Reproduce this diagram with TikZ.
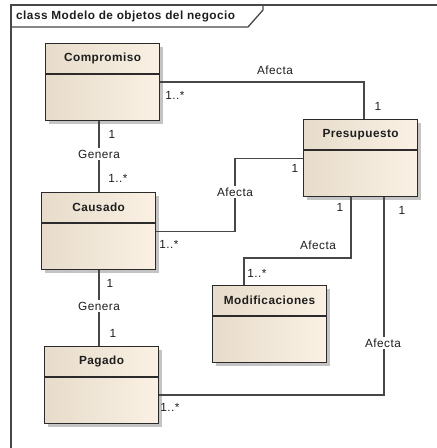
\documentclass[tikz,border=0pt]{standalone}
\usepackage{fontspec}
\setmainfont{Liberation Sans}[LetterSpace=4]

\definecolor{boxleft}{HTML}{E7DCCB}
\definecolor{boxmid}{HTML}{F5EBDC}
\definecolor{boxright}{HTML}{FAF1E4}
\definecolor{edgecol}{HTML}{2B2B2B}
\definecolor{linecol}{HTML}{474747}
\definecolor{textcol}{HTML}{1E1E1E}
\definecolor{shadowcol}{HTML}{C4C4C4}

\tikzset{
  classbox/.style={draw=edgecol, line width=1.2pt, anchor=north west,
    minimum width=114pt, minimum height=77pt, inner sep=0pt,
    left color=boxleft, middle color=boxmid, right color=boxright},
  boxshadow/.style={fill=shadowcol},
  divider/.style={draw=edgecol, line width=1.2pt},
  classtitle/.style={font=\fontsize{11.8}{14}\selectfont\bfseries, text=textcol, inner sep=0pt},
  conn/.style={draw=linecol, line width=1.1pt},
  role/.style={font=\fontsize{11.8}{14}\selectfont, text=textcol, inner sep=1pt},
  assoc/.style={role, fill=white, inner sep=2pt},
  frameline/.style={draw=linecol, line width=1.3pt},
}

% UML class: name, x, y (top left corner), class title
\newcommand\umlclass[4]{%
  \fill[boxshadow] (#2+4,#3+4) rectangle (#2+118,#3+81);
  \node[classbox] (#1) at (#2,#3) {};
  \draw[divider] ([yshift=-31pt]#1.north west) -- ([yshift=-31pt]#1.north east);
  \node[classtitle] (#1-title) at ([yshift=-15.5pt]#1.north) {#4};
}

\begin{document}
\begin{tikzpicture}[x=1pt, y=-1pt]
\useasboundingbox (0,0) rectangle (437,448);

% package frame with its name tab
\draw[frameline] (11,448) -- (11,5) -- (437,5);
\draw[frameline] (11,27) -- (248,27) -- (263,10) -- (263,5);
\node[classtitle, anchor=west] (frametitle) at (16,16) {class Modelo de objetos del negocio};

% classes
\umlclass{comp}{45}{43}{Compromiso}
\umlclass{caus}{41}{192}{Causado}
\umlclass{pag}{44}{346}{Pagado}
\umlclass{pres}{303}{119}{Presupuesto}
\umlclass{mod}{212}{285}{Modificaciones}

% bend points of the associations
\coordinate (vline) at (99,0);
\coordinate (bendTop) at (364,82);
\coordinate (bendA) at (235,0);
\coordinate (bendB) at (351,258);
\coordinate (bendC) at (244,258);
\coordinate (bendD) at (384,395);

% associations
\draw[conn] (comp.east |- bendTop) -- (bendTop) -- (pres.north -| bendTop);
\draw[conn] (pres.west) -- (pres.west -| bendA) -- (caus.east -| bendA) -- (caus.east);
\draw[conn] (comp.south -| vline) -- (caus.north -| vline);
\draw[conn] (caus.south -| vline) -- (pag.north -| vline);
\draw[conn] (pres.south -| bendB) -- (bendB) -- (bendC) -- (mod.north -| bendC);
\draw[conn] (pres.south -| bendD) -- (bendD) -- (pag.east |- bendD);

% association names
\node[assoc] (afTop) at (275,70) {Afecta};
\node[assoc] (afCaus) at (235,192) {Afecta};
\node[assoc] (gen1) at (99,154) {Genera};
\node[assoc] (gen2) at (99,306) {Genera};
\node[assoc] (afMod) at (318,245) {Afecta};
\node[assoc] (afPag) at (383,343) {Afecta};

% multiplicities
\node[role] (m1) at (175,95) {1..*};
\node[role] (m2) at (378,106) {1};
\node[role] (m3) at (295,168) {1};
\node[role] (m4) at (169,244) {1..*};
\node[role] (m5) at (112,134) {1};
\node[role] (m6) at (118,178) {1..*};
\node[role] (m7) at (110,283) {1};
\node[role] (m8) at (113,333) {1};
\node[role] (m9) at (340,207) {1};
\node[role] (m10) at (402,210) {1};
\node[role] (m11) at (257,273) {1..*};
\node[role] (m12) at (170,407) {1..*};
\end{tikzpicture}
\end{document}
